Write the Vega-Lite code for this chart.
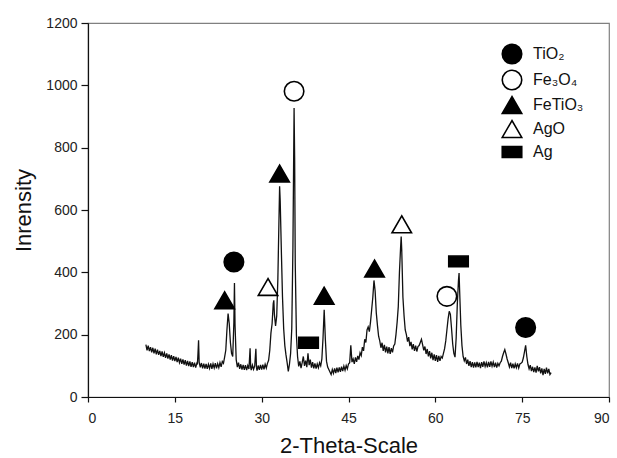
{
  "$schema": "https://vega.github.io/schema/vega-lite/v6.json",
  "width": 521,
  "height": 374,
  "autosize": "none",
  "padding": {"left": 88, "top": 23, "right": 8, "bottom": 61},
  "background": "white",
  "config": {
    "font": "Liberation Sans",
    "view": {"stroke": "#808080", "strokeWidth": 1.2},
    "axis": {
      "grid": false,
      "domainColor": "#111",
      "domainWidth": 1.2,
      "tickColor": "#111",
      "tickWidth": 1.2,
      "labelColor": "#222",
      "labelFontSize": 14,
      "labelFont": "Liberation Sans",
      "titleFont": "Liberation Sans",
      "titleFontSize": 22,
      "titleFontWeight": "normal",
      "titleColor": "#111"
    },
    "legend": {
      "orient": "none",
      "legendX": 413,
      "legendY": 20,
      "title": null,
      "padding": 0,
      "symbolSize": 380,
      "symbolStrokeColor": "black",
      "symbolStrokeWidth": 1.6,
      "symbolOpacity": 1,
      "labelFontSize": 16,
      "labelFont": "Liberation Sans",
      "labelColor": "#111",
      "labelOffset": 10,
      "rowPadding": 0
    }
  },
  "layer": [
    {
      "data": {"values": [
        {"deg":10.0,"cps":168},{"deg":10.2,"cps":150},{"deg":10.4,"cps":165},{"deg":10.6,"cps":147},{"deg":10.8,"cps":160},
        {"deg":11.0,"cps":143},{"deg":11.2,"cps":158},{"deg":11.4,"cps":140},{"deg":11.6,"cps":155},{"deg":11.8,"cps":137},
        {"deg":12.0,"cps":152},{"deg":12.2,"cps":135},{"deg":12.4,"cps":148},{"deg":12.6,"cps":131},{"deg":12.8,"cps":146},
        {"deg":13.0,"cps":129},{"deg":13.2,"cps":142},{"deg":13.4,"cps":126},{"deg":13.6,"cps":140},{"deg":13.8,"cps":123},
        {"deg":14.0,"cps":137},{"deg":14.2,"cps":120},{"deg":14.4,"cps":134},{"deg":14.6,"cps":117},{"deg":14.8,"cps":131},
        {"deg":15.0,"cps":115},{"deg":15.2,"cps":129},{"deg":15.4,"cps":112},{"deg":15.6,"cps":126},{"deg":15.8,"cps":110},
        {"deg":16.0,"cps":123},{"deg":16.2,"cps":106},{"deg":16.4,"cps":121},{"deg":16.6,"cps":104},{"deg":16.8,"cps":118},
        {"deg":17.0,"cps":101},{"deg":17.2,"cps":116},{"deg":17.4,"cps":99},{"deg":17.6,"cps":114},{"deg":17.8,"cps":97},
        {"deg":18.0,"cps":112},{"deg":18.2,"cps":96},{"deg":18.4,"cps":110},{"deg":18.6,"cps":94},{"deg":18.8,"cps":108},
        {"deg":18.9,"cps":104},{"deg":19.0,"cps":140},{"deg":19.1,"cps":182},{"deg":19.2,"cps":112},{"deg":19.4,"cps":95},
        {"deg":19.6,"cps":109},{"deg":19.8,"cps":92},{"deg":20.0,"cps":107},{"deg":20.2,"cps":91},{"deg":20.4,"cps":106},
        {"deg":20.6,"cps":90},{"deg":20.8,"cps":105},{"deg":21.0,"cps":92},{"deg":21.2,"cps":108},{"deg":21.4,"cps":90},
        {"deg":21.6,"cps":106},{"deg":21.8,"cps":93},{"deg":22.0,"cps":109},{"deg":22.2,"cps":92},{"deg":22.4,"cps":107},
        {"deg":22.6,"cps":94},{"deg":22.8,"cps":110},{"deg":23.0,"cps":97},{"deg":23.2,"cps":114},{"deg":23.4,"cps":108},
        {"deg":23.6,"cps":128},{"deg":23.8,"cps":150},{"deg":24.0,"cps":215},{"deg":24.2,"cps":268},{"deg":24.4,"cps":235},
        {"deg":24.6,"cps":175},{"deg":24.8,"cps":140},{"deg":25.0,"cps":130},{"deg":25.2,"cps":240},{"deg":25.3,"cps":366},
        {"deg":25.4,"cps":230},{"deg":25.6,"cps":120},{"deg":25.8,"cps":96},{"deg":26.0,"cps":110},{"deg":26.2,"cps":90},
        {"deg":26.4,"cps":105},{"deg":26.6,"cps":88},{"deg":26.8,"cps":103},{"deg":27.0,"cps":87},{"deg":27.2,"cps":102},
        {"deg":27.4,"cps":86},{"deg":27.6,"cps":101},{"deg":27.8,"cps":90},{"deg":28.0,"cps":156},{"deg":28.1,"cps":96},
        {"deg":28.2,"cps":86},{"deg":28.4,"cps":102},{"deg":28.6,"cps":89},{"deg":28.8,"cps":100},{"deg":29.0,"cps":155},
        {"deg":29.1,"cps":95},{"deg":29.2,"cps":85},{"deg":29.4,"cps":101},{"deg":29.6,"cps":87},{"deg":29.8,"cps":103},
        {"deg":30.0,"cps":88},{"deg":30.2,"cps":104},{"deg":30.4,"cps":89},{"deg":30.6,"cps":105},{"deg":30.8,"cps":93},
        {"deg":31.0,"cps":108},{"deg":31.2,"cps":118},{"deg":31.4,"cps":150},{"deg":31.6,"cps":205},{"deg":31.8,"cps":235},
        {"deg":32.0,"cps":300},{"deg":32.1,"cps":310},{"deg":32.2,"cps":265},{"deg":32.4,"cps":228},{"deg":32.6,"cps":260},
        {"deg":32.8,"cps":380},{"deg":33.0,"cps":580},{"deg":33.1,"cps":676},{"deg":33.2,"cps":630},{"deg":33.4,"cps":470},
        {"deg":33.6,"cps":320},{"deg":33.8,"cps":220},{"deg":34.0,"cps":165},{"deg":34.2,"cps":135},{"deg":34.4,"cps":110},
        {"deg":34.6,"cps":82},{"deg":34.8,"cps":105},{"deg":35.0,"cps":140},{"deg":35.2,"cps":220},{"deg":35.4,"cps":480},
        {"deg":35.6,"cps":927},{"deg":35.7,"cps":760},{"deg":35.8,"cps":430},{"deg":36.0,"cps":200},{"deg":36.2,"cps":130},
        {"deg":36.4,"cps":98},{"deg":36.6,"cps":114},{"deg":36.8,"cps":93},{"deg":37.0,"cps":110},{"deg":37.2,"cps":130},
        {"deg":37.4,"cps":100},{"deg":37.6,"cps":117},{"deg":37.8,"cps":96},{"deg":38.0,"cps":140},{"deg":38.2,"cps":102},
        {"deg":38.4,"cps":120},{"deg":38.6,"cps":94},{"deg":38.8,"cps":112},{"deg":39.0,"cps":92},{"deg":39.2,"cps":108},
        {"deg":39.4,"cps":91},{"deg":39.6,"cps":106},{"deg":39.8,"cps":94},{"deg":40.0,"cps":110},{"deg":40.2,"cps":100},
        {"deg":40.4,"cps":122},{"deg":40.6,"cps":190},{"deg":40.8,"cps":280},{"deg":41.0,"cps":185},{"deg":41.2,"cps":115},
        {"deg":41.4,"cps":96},{"deg":41.6,"cps":88},{"deg":41.8,"cps":80},{"deg":42.0,"cps":72},{"deg":42.2,"cps":88},
        {"deg":42.4,"cps":76},{"deg":42.6,"cps":92},{"deg":42.8,"cps":77},{"deg":43.0,"cps":94},{"deg":43.2,"cps":79},
        {"deg":43.4,"cps":95},{"deg":43.6,"cps":81},{"deg":43.8,"cps":97},{"deg":44.0,"cps":83},{"deg":44.2,"cps":99},
        {"deg":44.4,"cps":86},{"deg":44.6,"cps":101},{"deg":44.8,"cps":90},{"deg":45.0,"cps":106},{"deg":45.2,"cps":110},
        {"deg":45.4,"cps":166},{"deg":45.6,"cps":112},{"deg":45.8,"cps":122},{"deg":46.0,"cps":106},{"deg":46.2,"cps":127},
        {"deg":46.4,"cps":113},{"deg":46.6,"cps":132},{"deg":46.8,"cps":120},{"deg":47.0,"cps":142},{"deg":47.2,"cps":133},
        {"deg":47.4,"cps":160},{"deg":47.6,"cps":148},{"deg":47.8,"cps":185},{"deg":48.0,"cps":175},{"deg":48.2,"cps":215},
        {"deg":48.4,"cps":225},{"deg":48.6,"cps":210},{"deg":48.8,"cps":240},{"deg":49.0,"cps":280},{"deg":49.2,"cps":320},
        {"deg":49.4,"cps":374},{"deg":49.6,"cps":340},{"deg":49.8,"cps":270},{"deg":50.0,"cps":230},{"deg":50.2,"cps":195},
        {"deg":50.4,"cps":180},{"deg":50.6,"cps":158},{"deg":50.8,"cps":174},{"deg":51.0,"cps":148},{"deg":51.2,"cps":167},
        {"deg":51.4,"cps":143},{"deg":51.6,"cps":162},{"deg":51.8,"cps":140},{"deg":52.0,"cps":160},{"deg":52.2,"cps":138},
        {"deg":52.4,"cps":157},{"deg":52.6,"cps":143},{"deg":52.8,"cps":164},{"deg":53.0,"cps":170},{"deg":53.2,"cps":200},
        {"deg":53.4,"cps":240},{"deg":53.6,"cps":290},{"deg":53.8,"cps":400},{"deg":54.0,"cps":480},{"deg":54.1,"cps":515},
        {"deg":54.2,"cps":470},{"deg":54.4,"cps":320},{"deg":54.6,"cps":260},{"deg":54.8,"cps":215},{"deg":55.0,"cps":200},
        {"deg":55.2,"cps":178},{"deg":55.4,"cps":192},{"deg":55.6,"cps":163},{"deg":55.8,"cps":177},{"deg":56.0,"cps":153},
        {"deg":56.2,"cps":170},{"deg":56.4,"cps":148},{"deg":56.6,"cps":165},{"deg":56.8,"cps":146},{"deg":57.0,"cps":162},
        {"deg":57.2,"cps":165},{"deg":57.4,"cps":175},{"deg":57.6,"cps":185},{"deg":57.8,"cps":168},{"deg":58.0,"cps":150},
        {"deg":58.2,"cps":162},{"deg":58.4,"cps":138},{"deg":58.6,"cps":154},{"deg":58.8,"cps":130},{"deg":59.0,"cps":147},
        {"deg":59.2,"cps":124},{"deg":59.4,"cps":142},{"deg":59.6,"cps":118},{"deg":59.8,"cps":137},{"deg":60.0,"cps":116},
        {"deg":60.2,"cps":134},{"deg":60.4,"cps":113},{"deg":60.6,"cps":132},{"deg":60.8,"cps":116},{"deg":61.0,"cps":130},
        {"deg":61.2,"cps":125},{"deg":61.4,"cps":140},{"deg":61.6,"cps":155},{"deg":61.8,"cps":180},{"deg":62.0,"cps":215},
        {"deg":62.2,"cps":250},{"deg":62.4,"cps":275},{"deg":62.6,"cps":265},{"deg":62.8,"cps":220},{"deg":63.0,"cps":170},
        {"deg":63.2,"cps":140},{"deg":63.4,"cps":128},{"deg":63.6,"cps":190},{"deg":63.8,"cps":300},{"deg":64.0,"cps":375},
        {"deg":64.1,"cps":398},{"deg":64.2,"cps":340},{"deg":64.4,"cps":230},{"deg":64.6,"cps":165},{"deg":64.8,"cps":130},
        {"deg":65.0,"cps":116},{"deg":65.2,"cps":127},{"deg":65.4,"cps":106},{"deg":65.6,"cps":120},{"deg":65.8,"cps":100},
        {"deg":66.0,"cps":115},{"deg":66.2,"cps":96},{"deg":66.4,"cps":112},{"deg":66.6,"cps":94},{"deg":66.8,"cps":111},
        {"deg":67.0,"cps":95},{"deg":67.2,"cps":113},{"deg":67.4,"cps":96},{"deg":67.6,"cps":110},{"deg":67.8,"cps":93},
        {"deg":68.0,"cps":112},{"deg":68.2,"cps":97},{"deg":68.4,"cps":114},{"deg":68.6,"cps":98},{"deg":68.8,"cps":110},
        {"deg":69.0,"cps":95},{"deg":69.2,"cps":113},{"deg":69.4,"cps":97},{"deg":69.6,"cps":114},{"deg":69.8,"cps":99},
        {"deg":70.0,"cps":112},{"deg":70.2,"cps":96},{"deg":70.4,"cps":110},{"deg":70.6,"cps":94},{"deg":70.8,"cps":108},
        {"deg":71.0,"cps":100},{"deg":71.2,"cps":110},{"deg":71.4,"cps":115},{"deg":71.6,"cps":130},{"deg":71.8,"cps":142},
        {"deg":72.0,"cps":152},{"deg":72.2,"cps":138},{"deg":72.4,"cps":122},{"deg":72.6,"cps":110},{"deg":72.8,"cps":96},
        {"deg":73.0,"cps":110},{"deg":73.2,"cps":93},{"deg":73.4,"cps":107},{"deg":73.6,"cps":92},{"deg":73.8,"cps":106},
        {"deg":74.0,"cps":94},{"deg":74.2,"cps":108},{"deg":74.4,"cps":93},{"deg":74.6,"cps":106},{"deg":74.8,"cps":108},
        {"deg":75.0,"cps":112},{"deg":75.2,"cps":125},{"deg":75.4,"cps":145},{"deg":75.6,"cps":166},{"deg":75.8,"cps":130},
        {"deg":76.0,"cps":105},{"deg":76.2,"cps":90},{"deg":76.4,"cps":102},{"deg":76.6,"cps":83},{"deg":76.8,"cps":97},
        {"deg":77.0,"cps":80},{"deg":77.2,"cps":95},{"deg":77.4,"cps":78},{"deg":77.6,"cps":100},{"deg":77.8,"cps":82},
        {"deg":78.0,"cps":96},{"deg":78.2,"cps":76},{"deg":78.4,"cps":92},{"deg":78.6,"cps":70},{"deg":78.8,"cps":90},
        {"deg":79.0,"cps":74},{"deg":79.2,"cps":94},{"deg":79.4,"cps":76},{"deg":79.6,"cps":90},{"deg":79.8,"cps":72},
        {"deg":80.0,"cps":78}
      ]},
      "mark": {"type": "line", "color": "#111", "strokeWidth": 1.3},
      "encoding": {
        "x": {"field": "deg", "type": "quantitative", "scale": {"domain": [0, 90], "nice": false},
              "axis": {"title": "2-Theta-Scale", "values": [0, 15, 30, 45, 60, 75, 90], "tickSize": 5, "labelPadding": 9, "titlePadding": 10}},
        "y": {"field": "cps", "type": "quantitative", "scale": {"domain": [0, 1200], "nice": false},
              "axis": {"title": "Inrensity", "format": "d", "values": [0, 200, 400, 600, 800, 1000, 1200], "tickSize": 7, "labelPadding": 4, "titlePadding": 10}}
      }
    },
    {
      "data": {"values": [
        {"phase": "TiO₂", "deg": 25.2, "cps": 433},
        {"phase": "TiO₂", "deg": 75.6, "cps": 223},
        {"phase": "Fe₃O₄", "deg": 35.6, "cps": 981},
        {"phase": "Fe₃O₄", "deg": 62.0, "cps": 323},
        {"phase": "FeTiO₃", "deg": 23.6, "cps": 310},
        {"phase": "FeTiO₃", "deg": 33.1, "cps": 717},
        {"phase": "FeTiO₃", "deg": 40.8, "cps": 325},
        {"phase": "FeTiO₃", "deg": 49.5, "cps": 412},
        {"phase": "AgO", "deg": 31.1, "cps": 353},
        {"phase": "AgO", "deg": 54.2, "cps": 554},
        {"phase": "Ag", "deg": 38.1, "cps": 174},
        {"phase": "Ag", "deg": 64.0, "cps": 435}
      ]},
      "mark": {"type": "point", "filled": true, "strokeWidth": 1.6, "size": 380, "opacity": 1},
      "encoding": {
        "x": {"field": "deg", "type": "quantitative"},
        "y": {"field": "cps", "type": "quantitative"},
        "shape": {"field": "phase", "type": "nominal",
                  "scale": {"domain": ["TiO₂", "Fe₃O₄", "FeTiO₃", "AgO", "Ag"],
                            "range": ["circle", "circle", "triangle-up", "triangle-up", "M-1,-0.55H1V0.55H-1Z"]}},
        "fill": {"field": "phase", "type": "nominal",
                 "scale": {"domain": ["TiO₂", "Fe₃O₄", "FeTiO₃", "AgO", "Ag"],
                           "range": ["black", "white", "black", "white", "black"]}},
        "stroke": {"field": "phase", "type": "nominal",
                   "scale": {"domain": ["TiO₂", "Fe₃O₄", "FeTiO₃", "AgO", "Ag"],
                             "range": ["black", "black", "black", "black", "black"]}}
      }
    }
  ]
}
